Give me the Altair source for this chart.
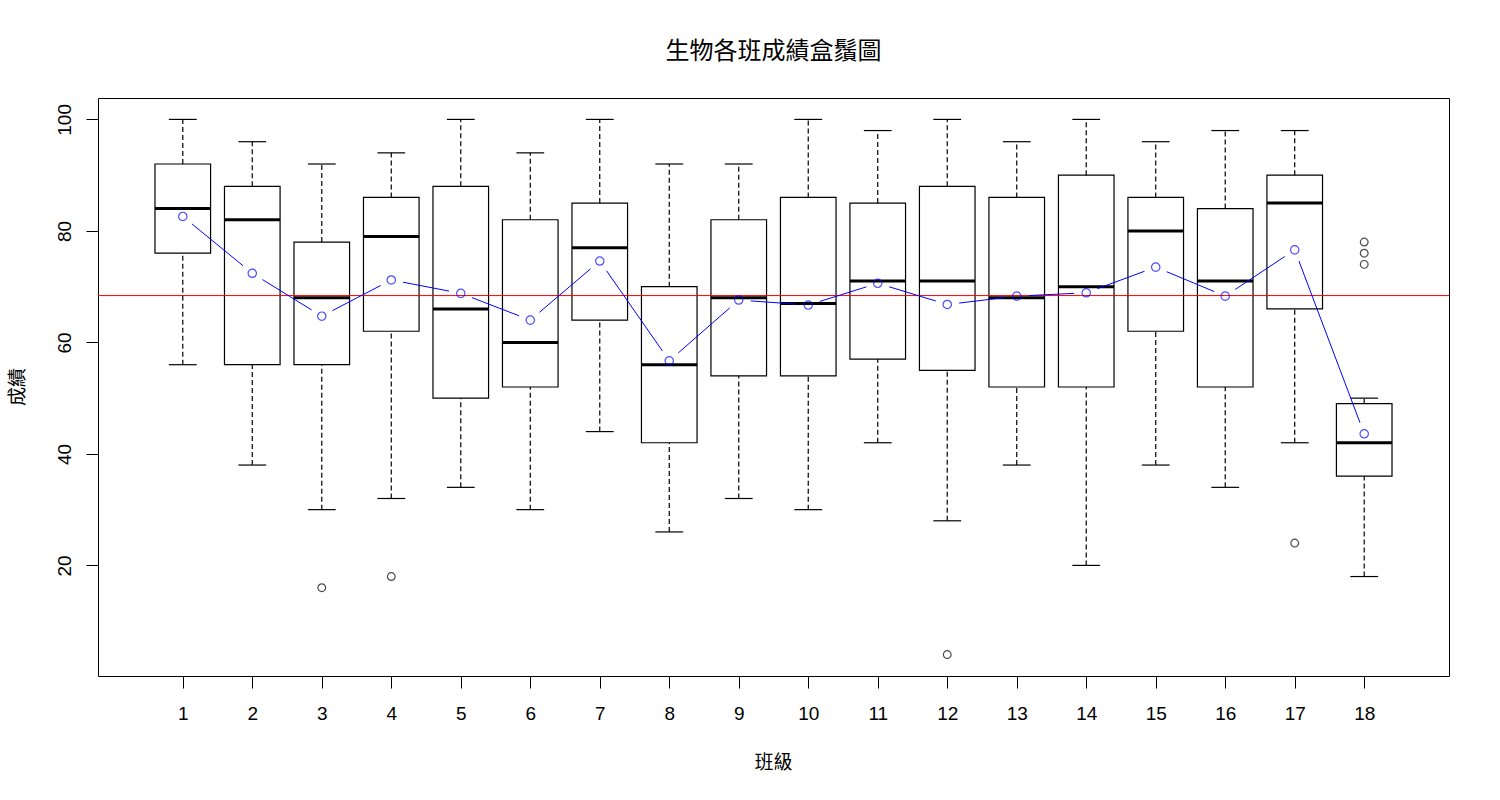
import math
import altair as alt
import pandas as pd

# ---- data ----
classes = list(range(1, 19))
whisker_low = [56, 38, 30, 32, 34, 30, 44, 26, 32, 30, 42, 28, 38, 20, 38, 34, 42, 18]
q1 =          [76, 56, 56, 62, 50, 52, 64, 42, 54, 54, 57, 55, 52, 52, 62, 52, 66, 36]
median =      [84, 82, 68, 79, 66, 60, 77, 56, 68, 67, 71, 71, 68, 70, 80, 71, 85, 42]
q3 =          [92, 88, 78, 86, 88, 82, 85, 70, 82, 86, 85, 88, 86, 90, 86, 84, 90, 49]
whisker_high = [100, 96, 92, 94, 100, 94, 100, 92, 92, 100, 98, 100, 96, 100, 96, 98, 98, 50]
means = [82.6, 72.4, 64.7, 71.2, 68.8, 64.0, 74.6, 56.7, 67.6, 66.7, 70.6, 66.8, 68.3, 68.9, 73.5, 68.3, 76.6, 43.6]

outlier_class = [3, 4, 12, 17, 18, 18, 18]
outlier_value = [16, 18, 4, 24, 78, 76, 74]

grand_mean = 68.4

title_text = "生物各班成績盒鬚圖"
x_title = "班級"
y_title = "成績"
y_ticks = [20, 40, 60, 80, 100]

# ---- layout ----
W, H = 1351, 578
XDOM = [-0.22, 19.22]
YDOM = [0.16, 103.84]
BOX_HALF = 0.4
CAP_HALF = 0.2

xs = alt.Scale(domain=XDOM, nice=False, zero=False)
ys = alt.Scale(domain=YDOM, nice=False, zero=False)

box_df = pd.DataFrame({
    "cls": classes, "low": whisker_low, "q1": q1, "med": median,
    "q3": q3, "high": whisker_high,
})
box_df["xl"] = box_df["cls"] - BOX_HALF
box_df["xr"] = box_df["cls"] + BOX_HALF
box_df["cl"] = box_df["cls"] - CAP_HALF
box_df["cr"] = box_df["cls"] + CAP_HALF

out_df = pd.DataFrame({"cls": outlier_class, "val": outlier_value})
mean_df = pd.DataFrame({"cls": classes, "mean": means})

# line segments of type "b" (gaps around the points)
sx = W / (XDOM[1] - XDOM[0])
sy = H / (YDOM[1] - YDOM[0])
gap = 12.0
segs = []
for i in range(len(classes) - 1):
    x1, y1 = classes[i], means[i]
    x2, y2 = classes[i + 1], means[i + 1]
    L = math.hypot((x2 - x1) * sx, (y2 - y1) * sy)
    if L > 2 * gap:
        t = gap / L
        segs.append({
            "x": x1 + t * (x2 - x1), "y": y1 + t * (y2 - y1),
            "x2": x2 - t * (x2 - x1), "y2": y2 - t * (y2 - y1),
        })
seg_df = pd.DataFrame(segs)

FONT = "Liberation Sans"
CJK = "Noto Sans CJK TC"

base = alt.Chart(box_df)

x_axis = alt.Axis(values=classes, format="d", tickSize=12, labelPadding=16, domain=False,
                  grid=False, labelFontSize=19, labelFont=FONT, labelColor="black",
                  tickColor="black", title=None, labelAngle=0)
y_axis = alt.Axis(values=y_ticks, format="d", tickSize=12, labelPadding=16, domain=False,
                  grid=False, labelFontSize=19, labelFont=FONT, labelColor="black",
                  tickColor="black", title=None, labelAngle=270,
                  labelAlign="center", labelBaseline="alphabetic")

boxes = base.mark_rect(fill="white", stroke="black", strokeWidth=1.2).encode(
    x=alt.X("xl:Q", scale=xs, axis=x_axis), x2="xr:Q",
    y=alt.Y("q1:Q", scale=ys, axis=y_axis), y2="q3:Q",
)
whisk_up = base.mark_rule(color="black", strokeWidth=1.2, strokeDash=[5, 3]).encode(
    x=alt.X("cls:Q", scale=xs), y=alt.Y("q3:Q", scale=ys), y2="high:Q")
whisk_dn = base.mark_rule(color="black", strokeWidth=1.2, strokeDash=[5, 3]).encode(
    x=alt.X("cls:Q", scale=xs), y=alt.Y("low:Q", scale=ys), y2="q1:Q")
cap_up = base.mark_rule(color="black", strokeWidth=1.2).encode(
    x=alt.X("cl:Q", scale=xs), x2="cr:Q", y=alt.Y("high:Q", scale=ys))
cap_dn = base.mark_rule(color="black", strokeWidth=1.2).encode(
    x=alt.X("cl:Q", scale=xs), x2="cr:Q", y=alt.Y("low:Q", scale=ys))
meds = base.mark_rule(color="black", strokeWidth=3).encode(
    x=alt.X("xl:Q", scale=xs), x2="xr:Q", y=alt.Y("med:Q", scale=ys))

outs = alt.Chart(out_df).mark_point(shape="circle", filled=False, color="black",
                                    size=60, strokeWidth=1.2).encode(
    x=alt.X("cls:Q", scale=xs), y=alt.Y("val:Q", scale=ys))

hline = alt.Chart(pd.DataFrame({"v": [grand_mean]})).mark_rule(
    color="#FF0000", strokeWidth=1).encode(
    y=alt.Y("v:Q", scale=ys), x=alt.value(0), x2=alt.value(W))

mline = alt.Chart(seg_df).mark_rule(color="#0000FF", strokeWidth=1).encode(
    x=alt.X("x:Q", scale=xs), y=alt.Y("y:Q", scale=ys), x2="x2:Q", y2="y2:Q")

mpts = alt.Chart(mean_df).mark_point(shape="circle", filled=False, color="#0000FF",
                                     size=70, strokeWidth=1.2).encode(
    x=alt.X("cls:Q", scale=xs), y=alt.Y("mean:Q", scale=ys))

txt_df = pd.DataFrame({"t": [title_text]})
title_mark = alt.Chart(txt_df).mark_text(font=CJK, fontSize=24, color="black",
                                         align="center", baseline="middle").encode(
    text="t:N", x=alt.value(W / 2), y=alt.value(-46))
xt_mark = alt.Chart(pd.DataFrame({"t": [x_title]})).mark_text(
    font=CJK, fontSize=19, color="black", align="center", baseline="middle").encode(
    text="t:N", x=alt.value(W / 2), y=alt.value(665))
yt_mark = alt.Chart(pd.DataFrame({"t": [y_title]})).mark_text(
    font=CJK, fontSize=19, color="black", align="center", baseline="middle",
    angle=270).encode(
    text="t:N", x=alt.value(-80), y=alt.value(H / 2))

chart = alt.layer(
    boxes, whisk_up, whisk_dn, cap_up, cap_dn, meds, outs, hline, mline, mpts,
    title_mark, xt_mark, yt_mark,
).properties(
    width=W, height=H,
    autosize=alt.AutoSizeParams(type="none"),
    padding={"left": 98, "top": 98, "right": 51, "bottom": 124},
    background="white",
).configure_view(stroke="black", strokeWidth=1)

chart.save("out.html", embed_options={"renderer": "svg", "actions": False})
